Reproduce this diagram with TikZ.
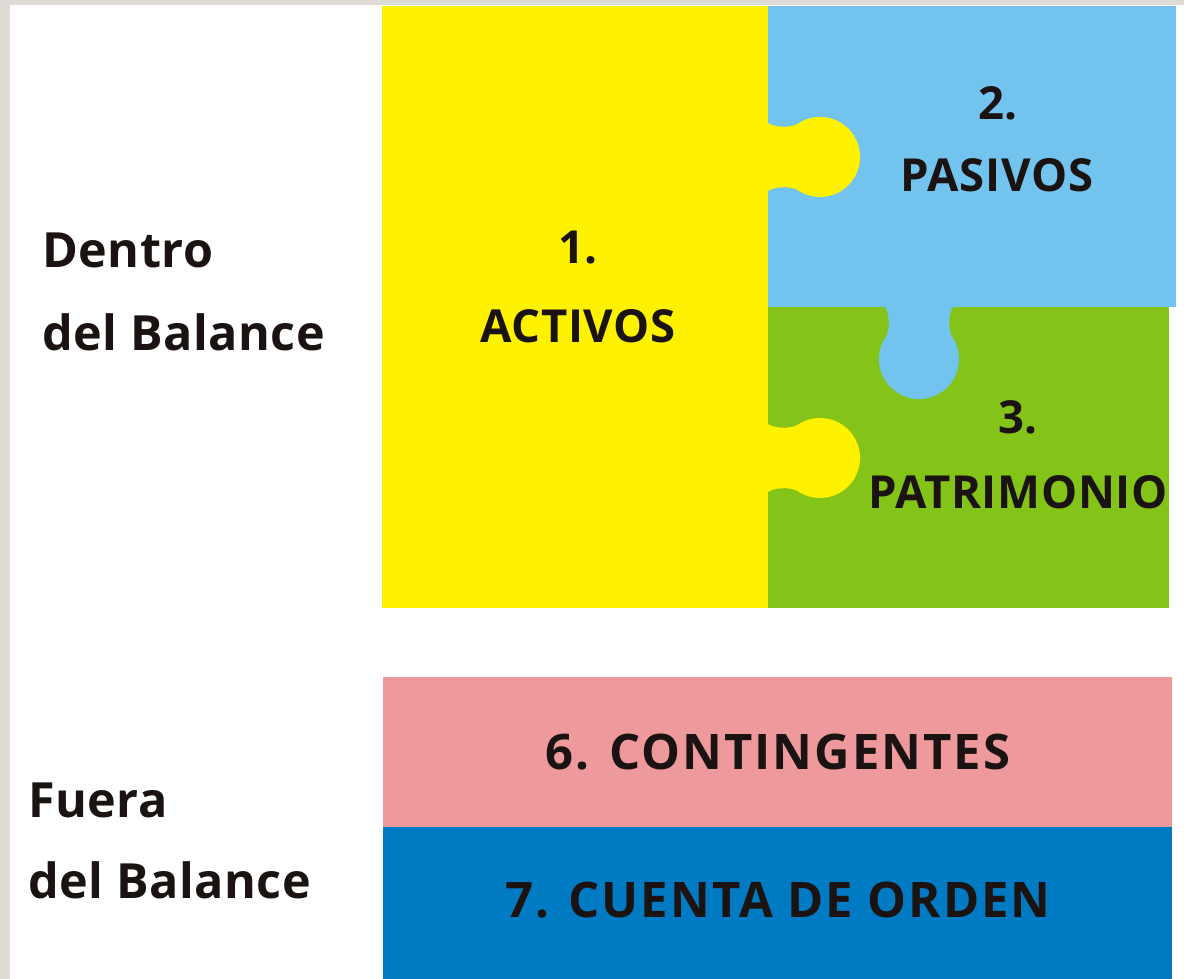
\documentclass[tikz,border=0pt]{standalone}
\usepackage{fontspec}
\setmainfont{Open Sans}
\definecolor{bggray}{HTML}{DFDCD7}
\definecolor{yel}{HTML}{FFF200}
\definecolor{lblue}{HTML}{73C3EF}
\definecolor{grn}{HTML}{84C318}
\definecolor{pnk}{HTML}{EE9A9D}
\definecolor{dblue}{HTML}{007AC3}
\definecolor{ink}{HTML}{1A1311}
\tikzset{
  lbl/.style={text=ink, font=\fontsize{48.5}{48.5}\selectfont\bfseries\addfontfeature{LetterSpace=1}, inner sep=0pt},
  plbl/.style={text=ink, font=\fontsize{45.5}{45.5}\selectfont\bfseries\addfontfeature{LetterSpace=1.5}, inner sep=0pt, anchor=base},
  blbl/.style={text=ink, font=\fontsize{49}{49}\selectfont\bfseries\addfontfeature{LetterSpace=4}, inner sep=0pt, anchor=base},
}
\begin{document}
\begin{tikzpicture}[x=1pt,y=-1pt]
\useasboundingbox (0,0) rectangle (1184,979);
\fill[bggray] (0,0) rectangle (1184,979);
\fill[white] (10,5) rectangle (1184,979);
% pieces
\fill[lblue] (768,6) rectangle (1176,307);
\fill[grn] (768,307) rectangle (1169,608);
\fill[yel] (382,6) rectangle (768,608);
\fill[pnk] (383,677) rectangle (1172,827);
\fill[dblue] (383,827) rectangle (1172,979);
% yellow knobs
\foreach \c in {157,458}{
\begin{scope}[shift={(768,\c)}]
\fill[yel] (-2,-34) -- (0,-34) .. controls (6,-30) and (20,-28.5) .. (29.1,-32.8)
  arc[start angle=-125,end angle=125,radius=40]
  .. controls (20,28.5) and (6,30) .. (0,34) -- (-2,34) -- cycle;
\end{scope}}
% blue knob
\begin{scope}[shift={(919,307)}]
\fill[lblue] (-34,-2) -- (-34,0) .. controls (-30,6) and (-28.5,20) .. (-32.8,29.1)
  arc[start angle=215,end angle=-35,radius=40]
  .. controls (28.5,20) and (30,6) .. (34,0) -- (34,-2) -- cycle;
\end{scope}
% left labels
\node[lbl, anchor=base west] (dentro1) at (42,267) {Dentro};
\node[lbl, anchor=base west] (dentro2) at (42,350) {del Balance};
\node[lbl, anchor=base west] (fuera1) at (28,817) {Fuera};
\node[lbl, anchor=base west] (fuera2) at (28,898) {del Balance};
% piece labels
\node[plbl] (n1) at (578,263) {1.};
\node[plbl] (act) at (578,342) {ACTIVOS};
\node[plbl] (n2) at (998,120) {2.};
\node[plbl] (pas) at (997,192) {PASIVOS};
\node[plbl] (n3) at (1018,433) {3.};
\node[plbl] (pat) at (1018,508) {PATRIMONIO};
\node[blbl] (cont) at (778,769) {6. CONTINGENTES};
\node[blbl] (orden) at (778,917) {7. CUENTA DE ORDEN};
\end{tikzpicture}
\end{document}
